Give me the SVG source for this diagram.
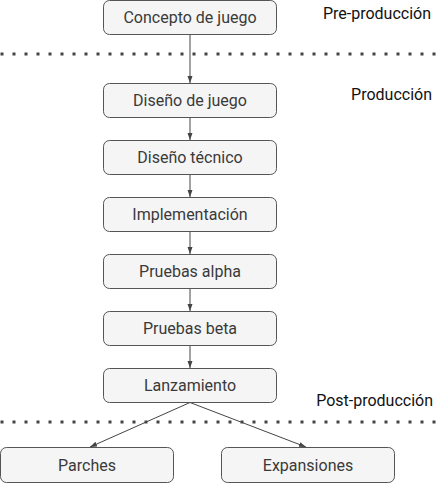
<svg xmlns="http://www.w3.org/2000/svg" width="436" height="483" viewBox="0 0 436 483">
<defs>
<marker id="ah" markerWidth="8" markerHeight="8" refX="7" refY="4" orient="auto" markerUnits="userSpaceOnUse">
<path d="M0,1.5 L7,4 L0,6.5 Z" fill="#444"/>
</marker>
<style>
.node rect{fill:#f5f5f5;stroke:#555;stroke-width:1}
.node text{font-family:Roboto,"Liberation Sans",sans-serif;font-size:16px;fill:#3a3a3a;text-anchor:middle;dominant-baseline:central}
.lbl{font-family:Roboto,"Liberation Sans",sans-serif;font-size:16px;fill:#111;text-anchor:end}
.dots{stroke:#444;stroke-width:3;stroke-dasharray:3 9;fill:none}
.edge{stroke:#444;stroke-width:1;fill:none;marker-end:url(#ah)}
</style>
</defs>
<rect width="436" height="483" fill="#fff"/>
<g id="separators">
<line class="dots" x1="0.5" y1="54" x2="436" y2="54"/>
<line class="dots" x1="0.5" y1="422" x2="436" y2="422"/>
</g>
<g id="labels">
<text class="lbl" x="431" y="19">Pre-producción</text>
<text class="lbl" x="432" y="100">Producción</text>
<text class="lbl" x="433" y="406">Post-producción</text>
</g>
<g id="connectors">
<line class="edge" x1="190" y1="34.5" x2="190" y2="83"/>
<line class="edge" x1="190" y1="117.5" x2="190" y2="140"/>
<line class="edge" x1="190" y1="174.5" x2="190" y2="197"/>
<line class="edge" x1="190" y1="231.5" x2="190" y2="254"/>
<line class="edge" x1="190" y1="288.5" x2="190" y2="311"/>
<line class="edge" x1="190" y1="345.5" x2="190" y2="368"/>
<line class="edge" x1="190" y1="402.5" x2="90" y2="447"/>
<line class="edge" x1="190" y1="402.5" x2="306" y2="447"/>
</g>
<g id="n1" class="node"><rect x="103.5" y="0.5" width="173" height="34" rx="6"/><text x="190" y="17.5">Concepto de juego</text></g>
<g id="n2" class="node"><rect x="103.5" y="83.5" width="173" height="34" rx="6"/><text x="190" y="100.5">Diseño de juego</text></g>
<g id="n3" class="node"><rect x="103.5" y="140.5" width="173" height="34" rx="6"/><text x="190" y="157.5">Diseño técnico</text></g>
<g id="n4" class="node"><rect x="103.5" y="197.5" width="173" height="34" rx="6"/><text x="190" y="214.5">Implementación</text></g>
<g id="n5" class="node"><rect x="103.5" y="254.5" width="173" height="34" rx="6"/><text x="190" y="271.5">Pruebas alpha</text></g>
<g id="n6" class="node"><rect x="103.5" y="311.5" width="173" height="34" rx="6"/><text x="190" y="328.5">Pruebas beta</text></g>
<g id="n7" class="node"><rect x="103.5" y="368.5" width="173" height="34" rx="6"/><text x="190" y="385.5">Lanzamiento</text></g>
<g id="n8" class="node"><rect x="0.5" y="447.5" width="173" height="35" rx="6"/><text x="87" y="465">Parches</text></g>
<g id="n9" class="node"><rect x="221.5" y="447.5" width="173" height="35" rx="6"/><text x="308" y="465">Expansiones</text></g>
</svg>
